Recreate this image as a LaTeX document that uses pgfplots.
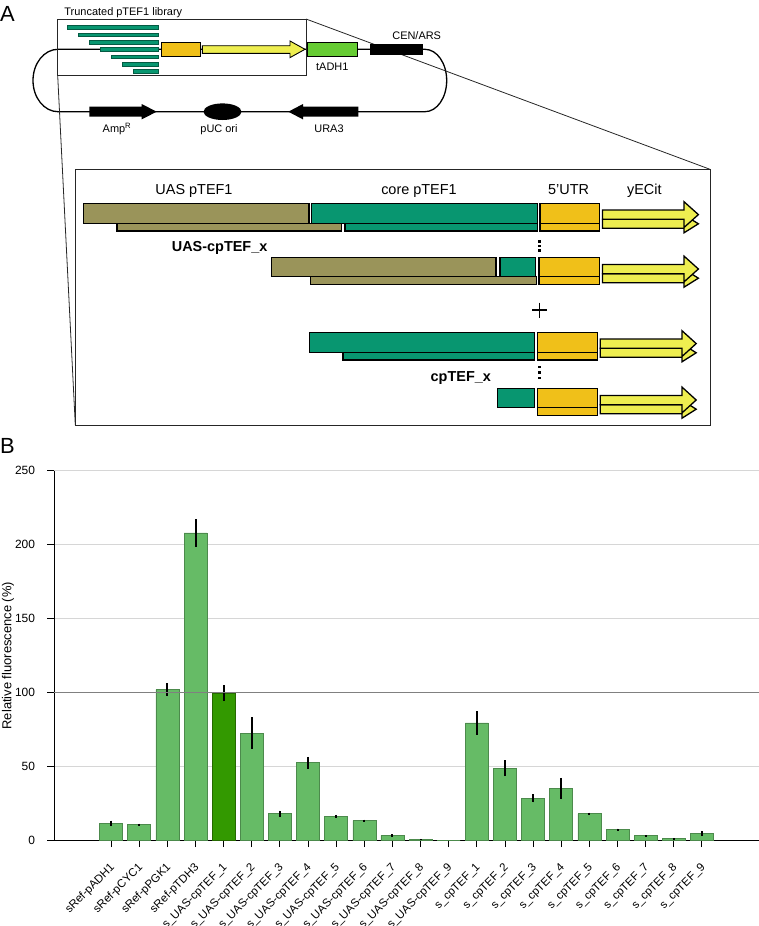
\documentclass[border=0pt]{standalone}
\usepackage{fontspec}
\setmainfont{Liberation Sans}
\usepackage{pgfplots}
\usepackage{pgfplotstable}
\pgfplotsset{compat=1.18}
\definecolor{barlight}{RGB}{102,187,102}
\definecolor{barlightedge}{RGB}{76,138,76}
\definecolor{bardark}{RGB}{51,153,0}
\definecolor{bardarkedge}{RGB}{38,105,0}
\definecolor{teal1}{RGB}{8,150,112}
\definecolor{olive1}{RGB}{154,148,90}
\definecolor{gold1}{RGB}{240,192,25}
\definecolor{yel1}{RGB}{238,238,80}
\definecolor{tgreen}{RGB}{102,204,51}
\newcommand\fs[1]{\fontsize{#1}{#1}\selectfont}
\newcommand\blk[5]{\draw[fill=#5, line width=1.4bp] (#1,#2) rectangle (#3,#4);}
% arrow pair: #1 x0, #2 xhead, #3 xtip, #4 row top
\newcommand\arrpair[4]{%
  \draw[fill=yel1, line width=1.3bp] (#1,#4+16) -- (#2,#4+16) -- (#2,#4+11.5) -- (#3,#4+20.5) -- (#2,#4+29.5) -- (#2,#4+25) -- (#1,#4+25) -- cycle;
  \draw[fill=yel1, line width=1.3bp] (#1,#4+6.7) -- (#2,#4+6.7) -- (#2,#4-1.6) -- (#3,#4+11.3) -- (#2,#4+24.2) -- (#2,#4+16) -- (#1,#4+16) -- cycle;}
\pgfplotstableread{
x y e
0 11.7 1.8
1 10.8 0.7
2 102.0 4.4
3 207.8 9.2
5 72.7 10.7
6 18.2 2.2
7 52.7 4.0
8 16.4 1.0
9 13.5 0.8
10 3.6 0.8
11 0.9 0.3
12 0 0
13 79.5 8.0
14 48.9 5.3
15 28.6 2.7
16 35.3 7.2
17 18.2 0.7
18 7.4 0.8
19 3.4 0.3
20 1.3 0.2
21 5.1 1.6
}\lightdata
\pgfplotstableread{
x y e
4 99.6 5.3
}\darkdata
\begin{document}
\begin{tikzpicture}
\useasboundingbox (0,0) rectangle (759bp,-926bp);
\begin{scope}[x=1bp,y=-1bp]
% panel labels
\node[anchor=base west, inner sep=0, font=\fs{22}] at (0,21.5) {A};
\node[anchor=base west, inner sep=0, font=\fs{22}] at (0,453) {B};
\node[anchor=base, inner sep=0, font=\fs{11}] at (123.3,15) {Truncated pTEF1 library};
% plasmid backbone
\draw[line width=1.3bp] (58,49.3) -- (425,49.3)
  .. controls (436.99,49.3) and (446.7,63.27) .. (446.7,80.5)
  .. controls (446.7,97.73) and (436.99,111.7) .. (425,111.7)
  -- (58,111.7)
  .. controls (44.19,111.7) and (33,97.73) .. (33,80.5)
  .. controls (33,63.27) and (44.19,49.3) .. (58,49.3) -- cycle;
% inset box and zoom lines
\draw[line width=0.8bp, black!85] (57.7,19) rectangle (306,75.7);
\draw[line width=0.8bp, black!85] (306,19) -- (710,169.3);
\draw[line width=0.8bp, black!85] (57.7,75.7) -- (75.3,425);
% truncated library
\foreach \xl/\yc in {67.3/27.3, 78.3/34.7, 89.3/42, 100.3/49.3, 111.3/56.7, 122.3/64, 133.3/71}
  \draw[fill=teal1, draw=teal1!60!black, line width=0.3bp] (\xl,\yc-1.7) rectangle (158.3,\yc+1.7);
\draw[fill=gold1, line width=0.9bp] (161.3,42.7) rectangle (200,56);
\draw[fill=yel1, line width=0.9bp] (202.3,45.7) -- (290,45.7) -- (290,41) -- (305,49.3) -- (290,57.6) -- (290,53.3) -- (202.3,53.3) -- cycle;
\draw[fill=tgreen, line width=0.9bp] (307.3,42.7) rectangle (357.3,56);
\node[anchor=base, inner sep=0, font=\fs{11}] at (332.3,70) {tADH1};
\fill (370,44) rectangle (422.7,55);
\node[anchor=base, inner sep=0, font=\fs{11}] at (416.7,39.5) {CEN/ARS};
\fill (89.3,106.7) -- (141.7,106.7) -- (141.7,104) -- (156.7,111.7) -- (141.7,119.4) -- (141.7,116.7) -- (89.3,116.7) -- cycle;
\fill (222.5,111.7) ellipse [x radius=19, y radius=8.3];
\fill (358.3,106.7) -- (303,106.7) -- (303,104) -- (288.3,111.7) -- (303,119.4) -- (303,116.7) -- (358.3,116.7) -- cycle;
\node[anchor=base, inner sep=0, font=\fs{11}] at (117,132) {Amp\textsuperscript{R}};
\node[anchor=base, inner sep=0, font=\fs{11}] at (219,132) {pUC ori};
\node[anchor=base, inner sep=0, font=\fs{11}] at (329,132) {URA3};
% big box
\draw[line width=0.9bp, black!85] (75.3,169.3) rectangle (710,425);
\foreach \t/\xx in {UAS pTEF1/194, core pTEF1/419, 5'UTR/568.6, yECit/644.3}
  \node[anchor=base, inner sep=0, font=\fs{14.5}] at (\xx,194.5) {\t};
% row 1
\blk{117}{223.3}{341.5}{231}{olive1}
\blk{345}{223.3}{537.3}{231}{teal1}
\blk{83.2}{203.3}{309}{223.3}{olive1}
\blk{311.6}{203.3}{537.3}{223.3}{teal1}
\blk{540}{203.3}{599.4}{231}{gold1}
\draw[line width=1.4bp] (540,223.3) -- (599.4,223.3);
\arrpair{602.5}{684}{698.4}{203.3}
\node[anchor=base, inner sep=0, font=\fs{14.5}\bfseries] at (219.6,251) {UAS-cpTEF\_x};
\foreach \yy in {241.5,246,250.5} \fill (538.4,\yy-1.2) rectangle (540.6,\yy+1.2);
% row 2
\blk{310.7}{276.7}{536.5}{284.3}{olive1}
\blk{271.5}{257.7}{496}{276.7}{olive1}
\blk{500}{257.7}{535.6}{276.7}{teal1}
\blk{539}{257.7}{599.4}{284.3}{gold1}
\draw[line width=1.4bp] (539,276.7) -- (599.4,276.7);
\arrpair{602.5}{684}{698.4}{257.7}
% plus
\draw[line width=1.4bp] (532,310) -- (547,310) (539.5,302.5) -- (539.5,317.5);
% row 3
\blk{342.8}{352.3}{534.7}{360}{teal1}
\blk{309.4}{332.3}{534.7}{352.3}{teal1}
\blk{537.3}{332.3}{597.2}{360}{gold1}
\draw[line width=1.4bp] (537.3,352.3) -- (597.2,352.3);
\arrpair{600.3}{682}{696.2}{332.3}
\node[anchor=base, inner sep=0, font=\fs{14.5}\bfseries] at (460.8,381.5) {cpTEF\_x};
\foreach \yy in {367,372.5,378} \fill (538.4,\yy-1.2) rectangle (540.6,\yy+1.2);
% row 4
\blk{497.7}{388.7}{534.2}{407.7}{teal1}
\blk{537.3}{388.7}{597.2}{415.3}{gold1}
\draw[line width=1.4bp] (537.3,407.7) -- (597.2,407.7);
\arrpair{600.3}{682}{696.2}{388.7}
\end{scope}
% panel B
\begin{axis}[
  at={(54bp,-840.7bp)}, anchor=south west,
  scale only axis, width=705bp, height=370.2bp,
  xmin=-2.03, xmax=23.03, ymin=0, ymax=250,
  axis x line*=bottom, axis y line*=left,
  axis line style={line width=1bp, black},
  xtick={0,...,21},
  xticklabels={sRef-pADH1,sRef-pCYC1,sRef-pPGK1,sRef-pTDH3,
    s\_UAS-cpTEF\_1,s\_UAS-cpTEF\_2,s\_UAS-cpTEF\_3,s\_UAS-cpTEF\_4,s\_UAS-cpTEF\_5,
    s\_UAS-cpTEF\_6,s\_UAS-cpTEF\_7,s\_UAS-cpTEF\_8,s\_UAS-cpTEF\_9,
    s\_cpTEF\_1,s\_cpTEF\_2,s\_cpTEF\_3,s\_cpTEF\_4,s\_cpTEF\_5,s\_cpTEF\_6,
    s\_cpTEF\_7,s\_cpTEF\_8,s\_cpTEF\_9},
  ytick={0,50,...,250},
  /pgf/number format/assume math mode=true,
  tick align=outside, major tick length=6.5bp,
  tick style={black, line width=0.9bp},
  x tick label style={xshift=-2bp, yshift=-14bp, rotate=45, anchor=north east, font=\fs{11.5}, inner sep=0.5bp},
  y tick label style={xshift=-9bp, font=\fs{12}},
  ymajorgrids, major grid style={color=black!16, line width=1bp},
  every axis y label/.style={at={(rel axis cs:0,0.5)}, xshift=-46bp, rotate=90, anchor=center, font=\fs{13}},
  ylabel={Relative fluorescence (\%)},
  clip=false,
]
\addplot[ybar, bar shift=0pt, bar width=23bp, fill=barlight, draw=barlightedge, line width=0.6bp,
  error bars/.cd, y dir=both, y explicit, error mark=none,
  error bar style={line width=2bp, black}]
  table[x=x, y=y, y error=e] {\lightdata};
\addplot[ybar, bar shift=0pt, bar width=23bp, fill=bardark, draw=bardarkedge, line width=0.6bp,
  error bars/.cd, y dir=both, y explicit, error mark=none,
  error bar style={line width=2bp, black}]
  table[x=x, y=y, y error=e] {\darkdata};
\draw[color=black!50, line width=1.2bp] (axis cs:-2.03,100) -- (axis cs:23.03,100);
\end{axis}
\end{tikzpicture}
\end{document}
